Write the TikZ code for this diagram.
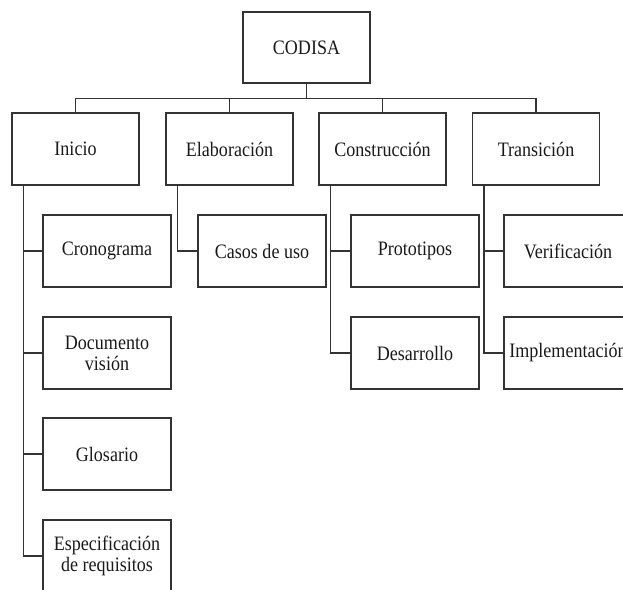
\documentclass[tikz,border=0pt]{standalone}
\usepackage{fontspec}
\setmainfont{Liberation Serif}[FakeStretch=0.88]
\definecolor{linec}{HTML}{333333}
\definecolor{textc}{HTML}{1a1a1a}
\begin{document}
\begin{tikzpicture}[x=1pt,y=-1pt,
  box/.style={draw=linec,line width=1.3pt,rectangle,inner sep=2pt,align=center,
    text=textc,font=\fontsize{20.5}{21}\selectfont},
  lone/.style={box,minimum width=127pt,minimum height=72pt},
  ltwo/.style={box,minimum width=128pt,minimum height=72pt},
  conn/.style={draw=linec,line width=1.3pt}]
\fill[white] (0,0) rectangle (623,589);
\useasboundingbox (0,0) rectangle (623,589);
% top
\node[box,minimum width=127pt,minimum height=71pt] (codisa) at (306.5,47.5) {CODISA};
% level 1
\node[lone] (inicio) at (75.5,149) {Inicio};
\node[lone] (elab) at (229.5,149) {Elaboración};
\node[lone] (const) at (382.5,149) {Construcción};
\node[lone] (trans) at (536,149) {Transición};
% level 2
\node[ltwo] (crono) at (107,251) {Cronograma};
\node[ltwo] (docvis) at (107,353) {Documento\\visión};
\node[ltwo] (glos) at (107,454) {Glosario};
\node[ltwo] (espec) at (107,556) {Especificación\\de requisitos};
\node[ltwo] (casos) at (262,251) {Casos de uso};
\node[ltwo] (proto) at (415,251) {Prototipos};
\node[ltwo] (desa) at (415,353) {Desarrollo};
\node[ltwo] (verif) at (568,251) {Verificación};
\node[ltwo] (impl) at (568,353) {Implementación};
% connectors top
\foreach \n in {inicio,elab,const,trans}
  \draw[conn] (codisa.south) -- ++(0,15) -| (\n.north);
% connectors level 2
\foreach \p/\c in {inicio/crono,inicio/docvis,inicio/glos,inicio/espec,
                   elab/casos,const/proto,const/desa,trans/verif,trans/impl}
  \draw[conn] ([xshift=12pt]\p.south west) |- (\c.west);
\end{tikzpicture}
\end{document}
